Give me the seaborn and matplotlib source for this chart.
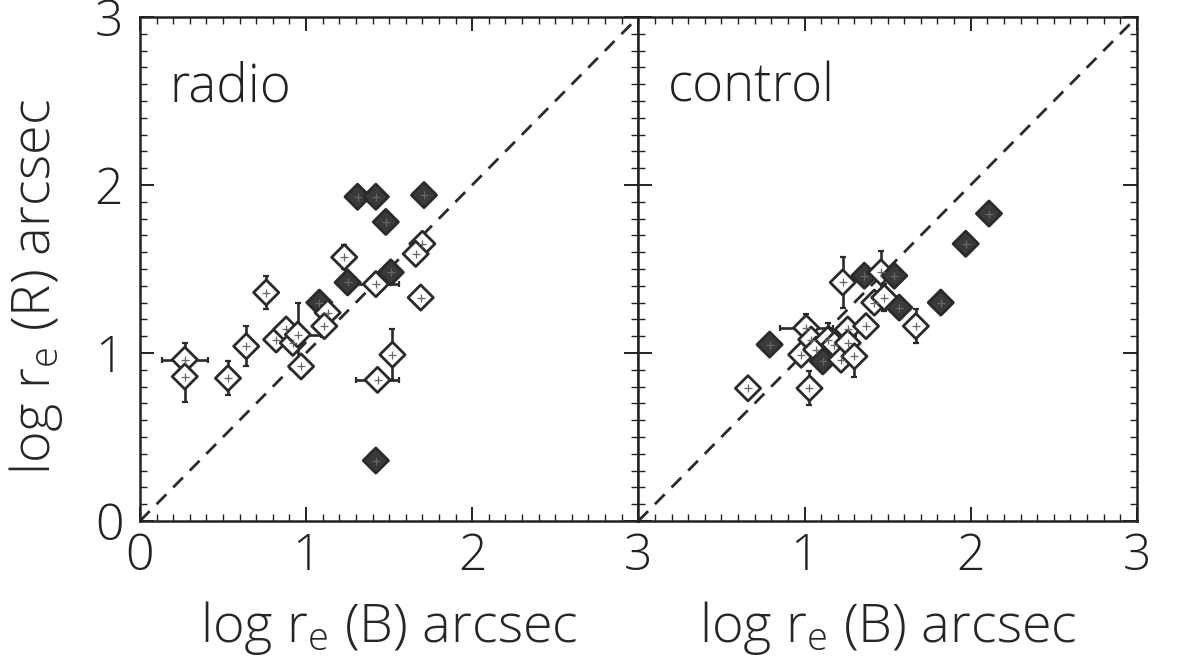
import matplotlib
matplotlib.use("Agg")
import matplotlib.pyplot as plt
import numpy as np
import pandas as pd
import seaborn as sns
from matplotlib.ticker import MultipleLocator

# radio sample
radio_x = [0.27, 0.27, 0.53, 0.64, 0.76, 0.82, 0.88, 0.92, 0.95, 0.97, 1.08, 1.13, 1.11, 1.23,
           1.25, 1.31, 1.42, 1.48, 1.42, 1.51, 1.52, 1.43, 1.71, 1.70, 1.66, 1.69, 1.42]
radio_y = [0.96, 0.86, 0.85, 1.04, 1.36, 1.08, 1.14, 1.06, 1.11, 0.92, 1.30, 1.24, 1.16, 1.57,
           1.42, 1.93, 1.93, 1.78, 1.41, 1.48, 0.99, 0.84, 1.94, 1.65, 1.59, 1.33, 0.36]
radio_xerr = [0.14, 0, 0, 0, 0, 0, 0, 0, 0.14, 0, 0, 0, 0, 0,
              0, 0, 0, 0, 0.14, 0, 0, 0.13, 0, 0, 0, 0, 0]
radio_yerr = [0.10, 0.15, 0.10, 0.12, 0.10, 0, 0, 0, 0.19, 0, 0, 0, 0, 0.07,
              0, 0, 0, 0, 0.05, 0, 0.15, 0, 0, 0, 0, 0, 0]
radio_filled = [0, 0, 0, 0, 0, 0, 0, 0, 0, 0, 1, 0, 0, 0,
                1, 1, 1, 1, 0, 1, 0, 0, 1, 0, 0, 0, 1]

# control sample
control_x = [0.66, 0.79, 1.03, 1.01, 0.98, 1.04, 1.07, 1.11, 1.14, 1.18, 1.22, 1.26, 1.26,
             1.30, 1.37, 1.23, 1.36, 1.46, 1.54, 1.42, 1.48, 1.57, 1.67, 1.82, 2.11, 1.97]
control_y = [0.79, 1.05, 0.79, 1.15, 0.99, 1.08, 1.02, 0.95, 1.08, 1.05, 0.96, 1.14, 1.06,
             0.98, 1.16, 1.42, 1.46, 1.48, 1.46, 1.30, 1.33, 1.27, 1.16, 1.30, 1.83, 1.65]
control_xerr = [0, 0, 0, 0.16, 0, 0, 0, 0, 0, 0, 0, 0, 0,
                0, 0, 0, 0, 0, 0, 0, 0, 0, 0, 0, 0, 0]
control_yerr = [0.06, 0, 0.10, 0.08, 0, 0, 0, 0, 0.10, 0, 0, 0, 0,
                0.12, 0, 0.15, 0, 0.13, 0, 0, 0.08, 0, 0.10, 0, 0, 0]
control_filled = [0, 1, 0, 0, 0, 0, 0, 1, 0, 0, 0, 0, 0,
                  0, 0, 0, 1, 0, 1, 0, 0, 1, 0, 1, 1, 1]

sns.set_theme(style="ticks")
plt.rcParams.update({
    "font.family": ["Open Sans", "DejaVu Sans"],
    "font.weight": 300,
    "axes.labelweight": 300,
    "mathtext.fontset": "custom",
    "mathtext.rm": "Open Sans:light",
    "mathtext.default": "rm",
    "axes.linewidth": 1.8,
    "axes.edgecolor": "#222222",
    "xtick.color": "#222222",
    "ytick.color": "#222222",
    "text.color": "#222222",
})

INK = "#2a2a2a"
LABEL_FS = 39
NAME_FS = 38
TICK_FS = 36


def draw_panel(ax, x, y, xerr, yerr, filled, name):
    df = pd.DataFrame({"x": x, "y": y, "xerr": xerr, "yerr": yerr,
                       "kind": np.where(np.array(filled) == 1, "filled", "open")})
    ax.plot([0, 3], [0, 3], color=INK, linestyle=(0, (5, 3.5)), linewidth=2.0, zorder=1)
    ax.errorbar(df["x"], df["y"], xerr=df["xerr"], yerr=df["yerr"], fmt="none",
                ecolor=INK, elinewidth=1.9, capsize=2.5, capthick=1.6, zorder=2)
    sns.scatterplot(data=df, x="x", y="y", hue="kind", palette={"open": "white", "filled": "#3a3a3a"},
                    marker="D", s=165, edgecolor=INK, linewidth=2.0, legend=False, ax=ax, zorder=3)
    ax.scatter(df["x"], df["y"], marker="+", s=30, color="#666666", linewidths=0.9, zorder=4)
    ax.set_xlim(0, 3)
    ax.set_ylim(0, 3)
    ax.xaxis.set_major_locator(MultipleLocator(1))
    ax.xaxis.set_minor_locator(MultipleLocator(0.1))
    ax.yaxis.set_major_locator(MultipleLocator(1))
    ax.yaxis.set_minor_locator(MultipleLocator(0.1))
    ax.tick_params(which="both", direction="in", top=True, right=True, labelsize=TICK_FS)
    ax.tick_params(axis="x", pad=8)
    ax.tick_params(axis="y", pad=12)
    ax.tick_params(which="major", length=10, width=1.4)
    ax.tick_params(which="minor", length=5, width=1.0)
    ax.set_xlabel(r"log r$_{e}$ (B) arcsec", fontsize=LABEL_FS, labelpad=12)
    ax.set_ylabel("")
    ax.text(0.06, 0.86, name, transform=ax.transAxes, fontsize=NAME_FS, ha="left", va="center")


fig = plt.figure(figsize=(11.79, 6.72), dpi=100)
ax1 = fig.add_axes([0.1187, 0.2247, 0.4227, 0.75])
ax2 = fig.add_axes([0.5414, 0.2247, 0.4229, 0.75], sharey=ax1)

draw_panel(ax1, radio_x, radio_y, radio_xerr, radio_yerr, radio_filled, "radio")
draw_panel(ax2, control_x, control_y, control_xerr, control_yerr, control_filled, "control")

ax1.set_ylabel(r"log r$_{e}$ (R) arcsec", fontsize=LABEL_FS)
ax1.yaxis.set_label_coords(-0.15, 0.465)
ax1.set_xticks([0, 1, 2, 3])
ax2.set_xticks([1, 2, 3])
ax2.xaxis.set_minor_locator(MultipleLocator(0.1))
ax2.tick_params(labelleft=False)

fig.savefig("out.png", dpi=100, facecolor="white")
